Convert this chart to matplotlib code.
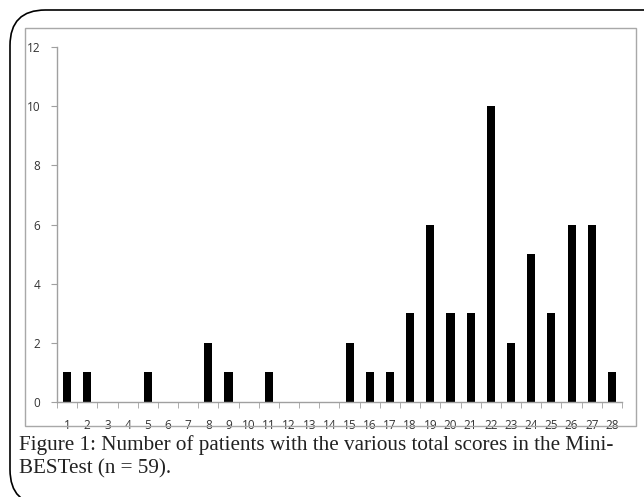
import matplotlib
matplotlib.use("Agg")
import matplotlib.pyplot as plt
from matplotlib.patches import Rectangle, FancyBboxPatch
import numpy as np

# total Mini-BESTest scores and number of patients per score
scores = list(range(1, 29))
patients = [1, 1, 0, 0, 1, 0, 0, 2, 1, 0, 1, 0, 0, 0,
            2, 1, 1, 3, 6, 3, 3, 10, 2, 5, 3, 6, 6, 1]
y_ticks = [0, 2, 4, 6, 8, 10, 12]
caption = ("Figure 1: Number of patients with the various total scores in the Mini-\n"
           "BESTest (n = 59).")

W, H = 644, 497
fig = plt.figure(figsize=(W / 100, H / 100), dpi=100)

def fx(px):
    return px / W

def fy(py):
    return 1 - py / H

# outer rounded frame (runs off the right and bottom of the picture)
outer = FancyBboxPatch((fx(10), fy(505)), fx(690) - fx(10), fy(10) - fy(505),
                       boxstyle="round,pad=0,rounding_size=0.055",
                       transform=fig.transFigure, fill=False,
                       edgecolor='black', linewidth=1.2, mutation_aspect=W / H)
fig.patches.append(outer)

# inner chart frame
inner = Rectangle((fx(25), fy(426)), fx(636) - fx(25), fy(28) - fy(426),
                  transform=fig.transFigure, fill=False,
                  edgecolor='#a8a8a8', linewidth=1.0)
fig.patches.append(inner)

ax = fig.add_axes([fx(57), fy(402), fx(622) - fx(57), fy(47) - fy(402)])
ax.bar(scores, patients, width=0.4, color='black')
ax.set_xlim(0.5, 28.5)
ax.set_ylim(0, 12)

for s in ['top', 'right']:
    ax.spines[s].set_visible(False)
for s in ['left', 'bottom']:
    ax.spines[s].set_color('#a0a0a0')
    ax.spines[s].set_linewidth(1.0)

ax.set_yticks(y_ticks)
ax.set_yticklabels([str(v) for v in y_ticks])
ax.set_xticks(scores)
ax.set_xticklabels([str(s) for s in scores])
ax.set_xticks(np.arange(0.5, 29, 1), minor=True)
ax.tick_params(axis='x', which='major', length=0, pad=12)
ax.tick_params(axis='x', which='minor', length=4, color='#a0a0a0', direction='out')
ax.tick_params(axis='y', length=4, color='#a0a0a0', pad=8)
for lab in ax.get_xticklabels() + ax.get_yticklabels():
    lab.set_fontsize(8.5)
    lab.set_color('#333333')
    lab.set_family('Open Sans')

fig.text(fx(19), fy(457), caption, ha='left', va='center',
         fontsize=15.2, family='Liberation Serif', color='#222222',
         linespacing=1.28)

fig.savefig('out.png', dpi=100)
